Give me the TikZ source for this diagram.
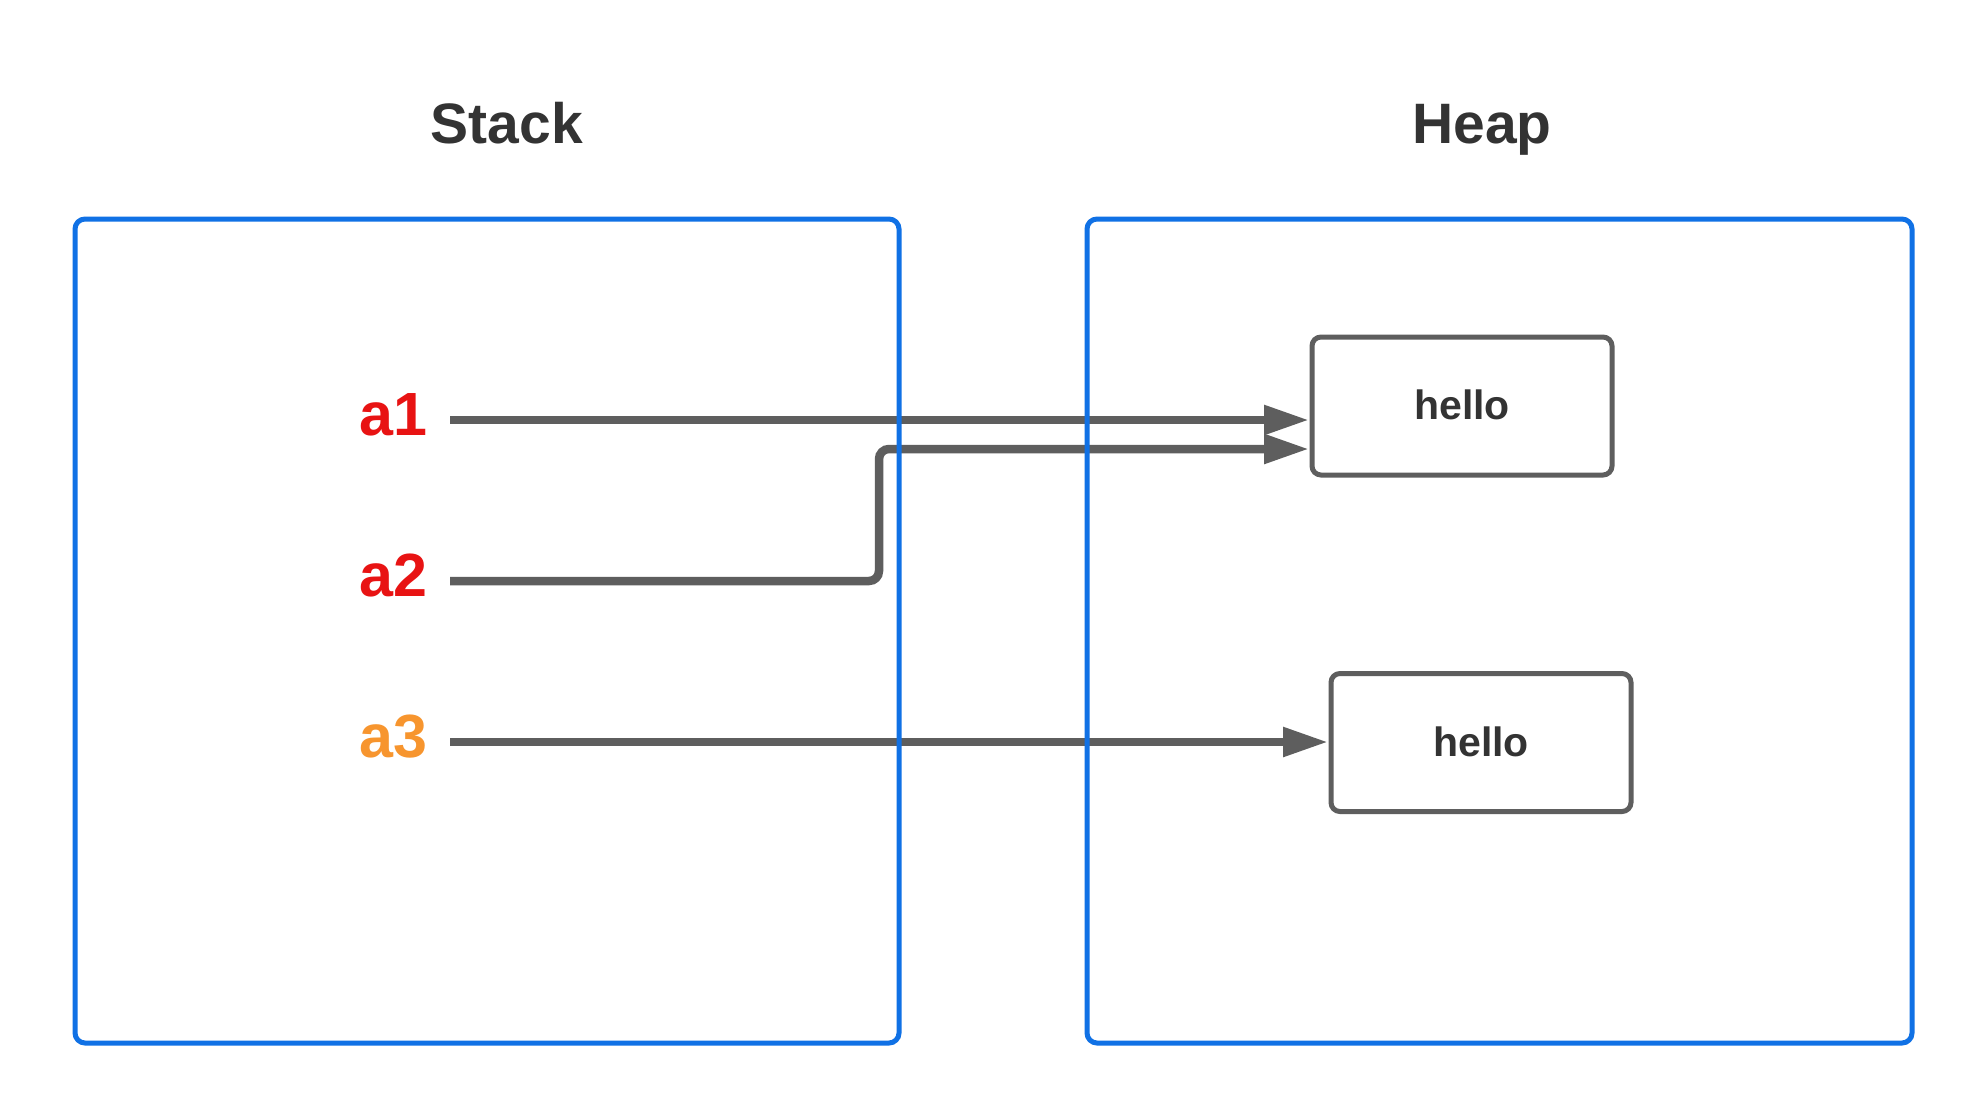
\documentclass[tikz,border=0pt]{standalone}
\usepackage{fontspec}
\setmainfont{Liberation Sans}
\usetikzlibrary{arrows.meta}
\definecolor{frameblue}{HTML}{1071E5}
\definecolor{linegray}{HTML}{5E5E5E}
\definecolor{textdark}{HTML}{333333}
\definecolor{varred}{HTML}{E81313}
\definecolor{varorange}{HTML}{F7952E}
\tikzset{
  region/.style={draw=frameblue, line width=5pt, rounded corners=10pt},
  title/.style={text=textdark, font=\bfseries\fontsize{57}{60}\selectfont, anchor=base, inner sep=0pt},
  varlabel/.style={font=\bfseries\fontsize{61}{64}\selectfont, anchor=base east, inner sep=0pt},
  cell/.style={draw=linegray, line width=5pt, rounded corners=9pt, fill=white, minimum width=300pt, minimum height=138pt, inner sep=0pt, text=textdark, font=\bfseries\fontsize{41}{44}\selectfont},
  ref/.style={draw=linegray, line width=8.5pt, -{Triangle[length=45pt,width=28pt]}, rounded corners=10pt}
}
\begin{document}
\begin{tikzpicture}[x=1pt,y=-1pt]
\useasboundingbox (0,0) rectangle (1988,1119);
\fill[white] (0,0) rectangle (1988,1119);
% titles
\node[title] (stacktitle) at (507,143) {Stack};
\node[title] (heaptitle) at (1482,143) {Heap};
% heap cells
\node[cell] (h1) at (1462,406) {\raisebox{2pt}{hello}};
\node[cell] (h2) at (1481,742.5) {\raisebox{2pt}{hello}};
% variable labels
\node[varlabel, text=varred] (a1) at (428,435) {a1};
\node[varlabel, text=varred] (a2) at (428,596) {a2};
\node[varlabel, text=varorange] (a3) at (428,757) {a3};
% connector coordinates
\coordinate (s1) at (450,420);
\coordinate (s2) at (450,581);
\coordinate (s3) at (450,742);
\coordinate (bend2) at (879,581);
\coordinate (up2) at (879,449);
\coordinate (t1) at (1309,420);
\coordinate (t2) at (1309,449);
\coordinate (t3) at (1328,742);
\draw[ref] (s1) -- (t1);
\draw[ref] (s2) -- (bend2) -- (up2) -- (t2);
\draw[ref] (s3) -- (t3);
% regions
\draw[region] (75,219) rectangle (899,1043);
\draw[region] (1087,219) rectangle (1912,1043);
\end{tikzpicture}
\end{document}
